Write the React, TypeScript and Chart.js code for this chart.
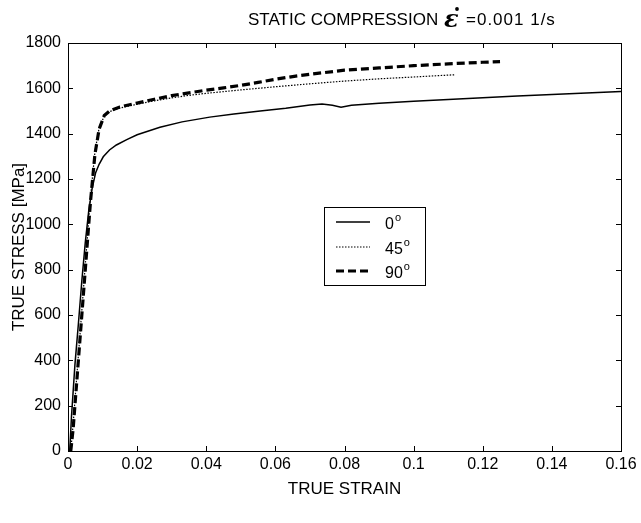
import React, { useEffect, useRef } from 'react';
import { Chart, registerables } from 'chart.js';
Chart.register(...registerables);

// ---- data ----
const strain0 = [0.0005, 0.001, 0.002, 0.003, 0.004, 0.005, 0.006, 0.007, 0.008, 0.009, 0.0102, 0.012, 0.014, 0.017, 0.02, 0.0266, 0.033, 0.041, 0.048, 0.0556, 0.063, 0.07, 0.0735, 0.0765, 0.079, 0.082, 0.09, 0.1, 0.11, 0.12, 0.13, 0.14, 0.15, 0.16];
const stress0 = [0, 150, 380, 560, 750, 920, 1060, 1160, 1228, 1265, 1298, 1328, 1350, 1374, 1395, 1428, 1452, 1473, 1487, 1500, 1512, 1526, 1531, 1525, 1517, 1525, 1534, 1543, 1551, 1559, 1566, 1573, 1579, 1586];

const strain45 = [0.0008, 0.0015, 0.0025, 0.0035, 0.0045, 0.0055, 0.0065, 0.0078, 0.009, 0.0105, 0.012, 0.015, 0.02, 0.025, 0.03, 0.035, 0.04, 0.05, 0.06, 0.07, 0.08, 0.09, 0.1, 0.112];
const stress45 = [0, 120, 320, 520, 720, 920, 1120, 1320, 1425, 1478, 1497, 1513, 1530, 1545, 1558, 1569, 1578, 1593, 1607, 1620, 1632, 1642, 1650, 1660];

const strain90 = [0.0008, 0.0015, 0.0025, 0.0035, 0.0045, 0.0055, 0.0065, 0.0078, 0.009, 0.0105, 0.012, 0.015, 0.02, 0.025, 0.03, 0.035, 0.04, 0.045, 0.05, 0.055, 0.06, 0.065, 0.07, 0.08, 0.09, 0.1, 0.11, 0.12, 0.125];
const stress90 = [0, 100, 300, 500, 700, 900, 1100, 1310, 1420, 1480, 1500, 1518, 1535, 1552, 1568, 1580, 1592, 1602, 1613, 1626, 1640, 1652, 1662, 1680, 1690, 1700, 1708, 1715, 1718];

const xTicks = [0, 0.02, 0.04, 0.06, 0.08, 0.1, 0.12, 0.14, 0.16];
const yTicks = [0, 200, 400, 600, 800, 1000, 1200, 1400, 1600, 1800];
const legendLabels = ['0', '45', '90'];
const titleLeft = 'STATIC COMPRESSION';
const titleSymbol = '\u03B5';
const titleRight = '=0.001 1/s';
const xTitle = 'TRUE STRAIN';
const yTitle = 'TRUE STRESS [MPa]';

const FONT = '"Liberation Sans", Arial, sans-serif';

const lineStyles = [
  { width: 1.5, dash: [] as number[] },
  { width: 1.2, dash: [1.5, 1.5] },
  { width: 3.2, dash: [8, 4] },
];

const toPts = (xs: number[], ys: number[]) => xs.map((x, i) => ({ x, y: ys[i] }));

const boxPlugin = {
  id: 'boxTicks',
  afterDatasetsDraw(chart: any) {
    const { ctx, chartArea } = chart;
    const { left, right, top, bottom } = chartArea;
    const xs = chart.scales.x;
    const ys = chart.scales.y;
    ctx.save();
    ctx.strokeStyle = '#000';
    ctx.lineWidth = 1;
    ctx.setLineDash([]);
    ctx.strokeRect(Math.round(left) + 0.5, Math.round(top) + 0.5, Math.round(right - left), Math.round(bottom - top));
    ctx.beginPath();
    const L = 5;
    xTicks.forEach((v) => {
      const p = Math.round(xs.getPixelForValue(v)) + 0.5;
      ctx.moveTo(p, bottom); ctx.lineTo(p, bottom - L);
      ctx.moveTo(p, top); ctx.lineTo(p, top + L);
    });
    yTicks.forEach((v) => {
      const p = Math.round(ys.getPixelForValue(v)) + 0.5;
      ctx.moveTo(left, p); ctx.lineTo(left + L, p);
      ctx.moveTo(right, p); ctx.lineTo(right - L, p);
    });
    ctx.stroke();
    ctx.restore();
  },
  afterDraw(chart: any) {
    const { ctx } = chart;
    ctx.save();
    // legend
    const bx = 324.5, by = 207.5, bw = 101, bh = 78;
    ctx.fillStyle = '#fff';
    ctx.fillRect(bx, by, bw, bh);
    ctx.strokeStyle = '#000';
    ctx.lineWidth = 1;
    ctx.setLineDash([]);
    ctx.strokeRect(bx, by, bw, bh);
    const rows = [222, 247, 271];
    legendLabels.forEach((lab, i) => {
      const s = lineStyles[i];
      ctx.beginPath();
      ctx.lineWidth = s.width;
      ctx.setLineDash(s.dash);
      ctx.moveTo(336, rows[i]);
      ctx.lineTo(370, rows[i]);
      ctx.stroke();
      ctx.setLineDash([]);
      ctx.fillStyle = '#000';
      ctx.font = `16px ${FONT}`;
      ctx.textBaseline = 'alphabetic';
      ctx.textAlign = 'left';
      ctx.fillText(lab, 385, rows[i] + 7);
      const w = ctx.measureText(lab).width;
      ctx.font = `11px ${FONT}`;
      ctx.fillText('o', 385 + w + 1, rows[i] - 1);
    });
    // title
    ctx.fillStyle = '#000';
    ctx.font = `17px ${FONT}`;
    ctx.textAlign = 'left';
    ctx.textBaseline = 'alphabetic';
    ctx.fillText(titleLeft, 248, 25);
    ctx.font = `italic bold 24px "DejaVu Serif", serif`;
    ctx.fillText(titleSymbol, 444, 27);
    ctx.beginPath();
    ctx.arc(457, 9, 1.9, 0, Math.PI * 2);
    ctx.fill();
    ctx.font = `17px ${FONT}`;
    try { (ctx as any).letterSpacing = '1px'; } catch (e) {}
    ctx.fillText(titleRight, 466, 25);
    try { (ctx as any).letterSpacing = '0px'; } catch (e) {}
    ctx.restore();
  },
};

export default function App() {
  const ref = useRef<HTMLCanvasElement>(null);
  useEffect(() => {
    document.body.style.margin = '0';
    const canvas = ref.current!;
    const tickFont = { family: FONT, size: 16 };
    const titleFont = { family: FONT, size: 17 };
    const chart = new Chart(canvas, {
      type: 'line',
      data: {
        datasets: [
          { label: '0', data: toPts(strain0, stress0) },
          { label: '45', data: toPts(strain45, stress45) },
          { label: '90', data: toPts(strain90, stress90) },
        ].map((d, i) => ({
          ...d,
          borderColor: '#000',
          backgroundColor: '#000',
          borderWidth: lineStyles[i].width,
          borderDash: lineStyles[i].dash,
          pointRadius: 0,
          fill: false,
          tension: 0,
        })),
      },
      options: {
        responsive: false,
        animation: false,
        devicePixelRatio: 1,
        layout: { padding: { top: 43, right: 20, left: 0, bottom: 0 } },
        plugins: { legend: { display: false }, tooltip: { enabled: false }, title: { display: false } },
        scales: {
          x: {
            type: 'linear',
            min: 0,
            max: 0.16,
            afterBuildTicks: (s: any) => { s.ticks = xTicks.map((v) => ({ value: v })); },
            afterFit: (s: any) => { s.height = 72; },
            grid: { display: false, drawTicks: false },
            border: { display: false },
            ticks: {
              color: '#000',
              font: tickFont,
              padding: 4,
              autoSkip: false,
              maxRotation: 0,
              callback: (v: any) => String(Math.round(Number(v) * 100) / 100),
            },
            title: { display: true, text: xTitle, color: '#000', font: titleFont, padding: { top: 4, bottom: 23 } },
          },
          y: {
            type: 'linear',
            min: 0,
            max: 1800,
            afterBuildTicks: (s: any) => { s.ticks = yTicks.map((v) => ({ value: v })); },
            afterFit: (s: any) => { s.width = 68; },
            grid: { display: false, drawTicks: false },
            border: { display: false },
            ticks: { color: '#000', font: tickFont, padding: 7, autoSkip: false, callback: (v: any) => String(v) },
            title: { display: true, text: yTitle, color: '#000', font: titleFont, padding: { top: 9, bottom: 4 } },
          },
        },
      },
      plugins: [boxPlugin],
    } as any);
    return () => chart.destroy();
  }, []);
  return <canvas ref={ref} width={641} height={523} style={{ display: 'block', width: 641, height: 523 }} />;
}
